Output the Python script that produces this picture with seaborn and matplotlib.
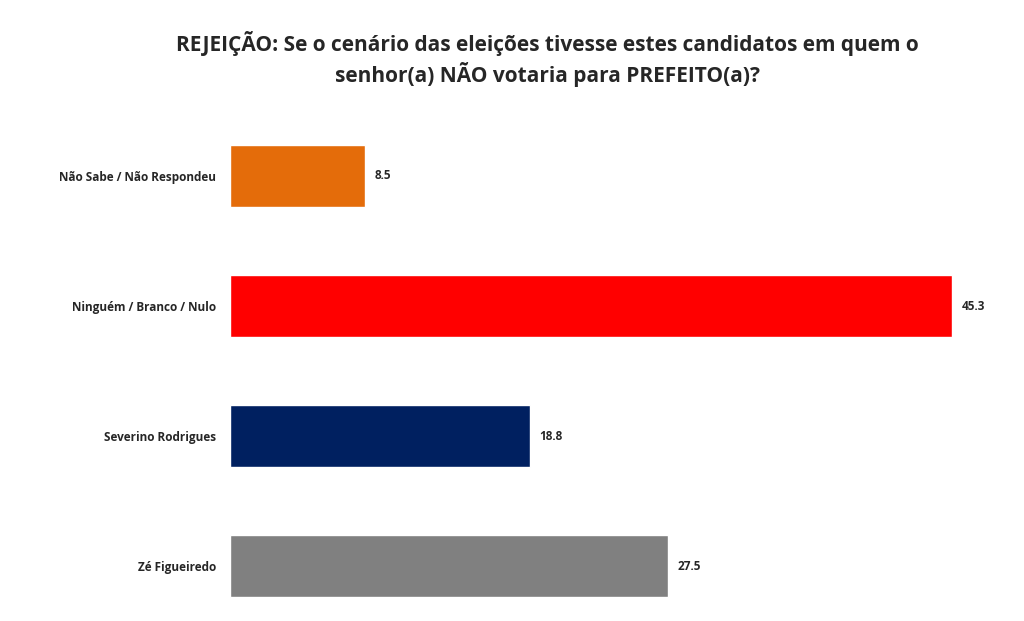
import matplotlib
matplotlib.use("Agg")
import matplotlib.pyplot as plt
import seaborn as sns
import pandas as pd

categories = ["Não Sabe / Não Respondeu", "Ninguém / Branco / Nulo", "Severino Rodrigues", "Zé Figueiredo"]
values = [8.5, 45.3, 18.8, 27.5]
colors = ["#E46C0A", "#FF0000", "#002060", "#808080"]

sns.set_theme(style="white")
plt.rcParams['font.family'] = ['Open Sans', 'DejaVu Sans']

fig = plt.figure(figsize=(10.24, 6.21), dpi=100)
ax = fig.add_axes([230/1024, 1-618/621, 765/1024, 507/621])
df = pd.DataFrame({"cat": categories, "val": values})
sns.barplot(data=df, x="val", y="cat", hue="cat", palette=colors, legend=False,
            width=0.47, ax=ax, saturation=1)
ax.set_xlim(0, 48)
ax.set_ylim(3.4, -0.5)
for i, v in enumerate(values):
    ax.text(v + 0.6, i, f"{v:.1f}", va="center", ha="left", fontsize=8.5, fontweight="bold")
ax.set_xlabel("")
ax.set_ylabel("")
ax.set_xticks([])
ax.tick_params(axis="y", length=0, pad=10)
for lbl in ax.get_yticklabels():
    lbl.set_fontsize(8.5)
    lbl.set_fontweight("bold")
for s in ax.spines.values():
    s.set_visible(False)
fig.text(0.535, 0.905, "REJEIÇÃO: Se o cenário das eleições tivesse estes candidatos em quem o\nsenhor(a) NÃO votaria para PREFEITO(a)?",
         ha="center", va="center", fontsize=15, fontweight="bold", linespacing=1.3)
fig.savefig("out.png", dpi=100)
